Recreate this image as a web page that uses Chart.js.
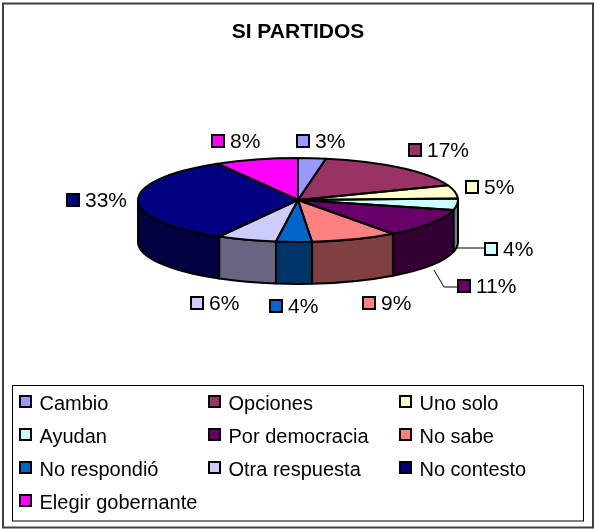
<!DOCTYPE html>
<html><head><meta charset="utf-8">
<style>html,body{margin:0;padding:0;background:#fff}canvas{display:block}</style>
<script src="https://cdn.jsdelivr.net/npm/chart.js@4"></script>
</head><body>
<canvas id="c" width="595" height="529"></canvas>
<script>
const titleText = 'SI PARTIDOS';
const categories = ['Cambio','Opciones','Uno solo','Ayudan','Por democracia','No sabe','No respondió','Otra respuesta','No contesto','Elegir gobernante'];
const values = [2.8,16.5,5.1,4.4,11.1,8.7,3.6,6.0,33.4,8.4];
const colors = ['#9999FF','#993366','#FFFFCC','#CCFFFF','#660066','#FF8080','#0066CC','#CCCCFF','#000080','#FF00FF'];

// Layout only
const FONT = '"Liberation Sans", Arial, sans-serif';
const tilt = 42/160, depth = 42;
const labelSwatchX = [296,408,465,484,457,362,269,190,66,211];
const labelCenterY = [141,150,187,249,286,303,306,303,200,141];
const legendBox = {x:12.5,y:385.5,w:571,h:135.5};
const legendCols = [20,209,400], legendRows = [403,436,469,502];

function darker(hex){
  const n=parseInt(hex.slice(1),16);
  const f=v=>Math.round(v/2);
  return `rgb(${f(n>>16&255)},${f(n>>8&255)},${f(n&255)})`;
}
function swatch(ctx,x,y,col,s){
  ctx.fillStyle=col;ctx.strokeStyle='#000';ctx.lineWidth=2;
  ctx.fillRect(x,y,s,s);ctx.strokeRect(x,y,s,s);
}
const pie3d = {
  id:'pie3d',
  beforeDatasetsDraw(chart){
    const ctx=chart.ctx, arcs=chart.getDatasetMeta(0).data;
    ctx.save();
    ctx.lineWidth=2;ctx.strokeStyle='#000';ctx.lineJoin='round';
    arcs.forEach((a,i)=>{
      const s=Math.max(a.startAngle,0), e=Math.min(a.endAngle,Math.PI);
      if(e<=s) return;
      const rx=a.outerRadius, ry=rx*tilt;
      ctx.beginPath();
      ctx.ellipse(a.x,a.y,rx,ry,0,s,e);
      ctx.ellipse(a.x,a.y+depth,rx,ry,0,e,s,true);
      ctx.closePath();
      ctx.fillStyle=darker(colors[i]);
      ctx.fill();ctx.stroke();
    });
    ctx.restore();
    const c=arcs[0];
    ctx.save();
    ctx.translate(c.x,c.y);ctx.scale(1,tilt);ctx.translate(-c.x,-c.y);
  },
  afterDatasetsDraw(chart){
    const ctx=chart.ctx, arcs=chart.getDatasetMeta(0).data;
    ctx.restore();
    ctx.save();
    ctx.lineWidth=2;ctx.strokeStyle='#000';ctx.lineJoin='round';
    arcs.forEach(a=>{
      const rx=a.outerRadius, ry=rx*tilt;
      ctx.beginPath();
      ctx.moveTo(a.x,a.y);
      ctx.ellipse(a.x,a.y,rx,ry,0,a.startAngle,a.endAngle);
      ctx.closePath();
      ctx.stroke();
    });
    ctx.restore();
  },
  afterDraw(chart){
    const ctx=chart.ctx;
    ctx.save();
    // frame
    ctx.strokeStyle='#404040';ctx.lineWidth=2;
    ctx.strokeRect(3,3.5,590,524);
    // leader lines
    ctx.strokeStyle='#000';ctx.lineWidth=1;
    const a=chart.getDatasetMeta(0).data[4];
    const b=chart.getDatasetMeta(0).data[3];
    ctx.beginPath();
    ctx.moveTo(b.x+b.outerRadius-2,labelCenterY[3]-1);ctx.lineTo(labelSwatchX[3],labelCenterY[3]-1);
    ctx.moveTo(a.x+a.outerRadius*0.85,a.y+70);ctx.lineTo(444,labelCenterY[4]+1);ctx.lineTo(labelSwatchX[4],labelCenterY[4]+1);
    ctx.stroke();
    // data labels
    ctx.textBaseline='middle';ctx.textAlign='left';
    ctx.font='21px '+FONT;
    values.forEach((v,i)=>{
      swatch(ctx,labelSwatchX[i]+1,labelCenterY[i]-6,colors[i],12);
      ctx.fillStyle='#000';
      ctx.fillText(Math.round(v)+'%',labelSwatchX[i]+19,labelCenterY[i]+1);
    });
    // legend
    ctx.font='20px '+FONT;
    ctx.strokeStyle='#000';ctx.lineWidth=1;
    ctx.strokeRect(legendBox.x,legendBox.y,legendBox.w,legendBox.h);
    categories.forEach((n,i)=>{
      const x=legendCols[i%3], y=legendRows[Math.floor(i/3)];
      swatch(ctx,x,y-7,colors[i],11);
      ctx.fillStyle='#000';ctx.fillText(n,x+19.5,y+1);
    });
    ctx.restore();
  }
};
new Chart(document.getElementById('c'),{
  type:'pie',
  data:{labels:categories,datasets:[{data:values,backgroundColor:colors,borderWidth:0,hoverOffset:0}]},
  options:{
    responsive:false,animation:false,
    layout:{padding:{left:138,right:137,top:0,bottom:169}},
    plugins:{
      legend:{display:false},tooltip:{enabled:false},
      title:{display:true,text:titleText,color:'#000',
        font:{family:FONT,size:21,weight:'bold',lineHeight:0.76},
        padding:{top:24,bottom:0}}
    }
  },
  plugins:[pie3d]
});
</script>
</body></html>
